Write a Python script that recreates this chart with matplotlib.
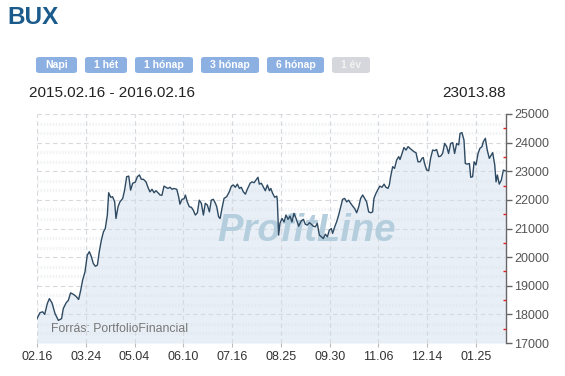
import numpy as np
import matplotlib
matplotlib.use("Agg")
import matplotlib.pyplot as plt
from matplotlib.patches import FancyBboxPatch
from matplotlib.ticker import MultipleLocator

plt.rcParams['font.family'] = ['Liberation Sans', 'DejaVu Sans']

# trading-day index (0 = 2015.02.16) and BUX close
days = [0, 1.6, 3.0, 4.1, 5.5, 6.6, 8.0, 9.6, 11.4, 13.1, 14.0, 15.5, 16.7, 17.9, 19.4,
        20.8, 22.2, 23.3, 24.3, 25.6, 26.8, 27.9, 29.0, 30.0, 31.1, 32.2, 33.2, 34.3,
        35.4, 36.4, 37.5, 38.2, 39.3, 40.3, 41.4, 42.1, 43.2, 44.2, 45.7, 46.7, 47.8,
        48.9, 49.9, 51.0, 52.4, 53.5, 54.6, 55.6, 56.7, 58.1, 59.2, 60.2, 61.3, 62.4,
        63.4, 64.5, 65.6, 66.6, 67.7, 68.8, 69.8, 70.9, 72.0, 73.0, 74.5, 75.5, 76.2,
        77.3, 78.4, 79.1, 80.1, 81.2, 82.3, 83.3, 84.4, 85.5, 86.5, 87.6, 88.7, 89.7,
        90.8, 91.9, 92.9, 94.0, 95.1, 95.8, 96.8, 97.6, 98.6, 99.7, 101.1, 102.5,
        103.6, 104.7, 105.7, 106.8, 107.9, 108.9, 110.0, 111.1, 112.1, 113.6, 114.6,
        115.7, 116.7, 117.8, 118.5, 119.6, 120.7, 121.7, 122.8, 123.9, 124.6, 125.6,
        126.7, 127.8, 128.1, 128.8, 129.5, 130.6, 131.7, 132.7, 133.8, 134.9, 135.9,
        137.0, 138.1, 139.5, 140.9, 142.0, 143.0, 144.1, 145.2, 146.2, 147.3, 148.4,
        149.4, 150.5, 151.6, 152.6, 153.7, 154.8, 155.8, 156.9, 157.6, 158.7, 159.7,
        160.8, 161.9, 162.9, 164.0, 165.1, 166.1, 167.2, 168.3, 169.3, 170.4, 171.5,
        172.5, 173.6, 174.7, 175.7, 176.8, 177.9, 178.9, 179.6, 180.7, 181.8, 182.8,
        183.9, 185.0, 186.0, 187.1, 187.8, 188.5, 189.6, 190.6, 191.7, 192.8, 193.5,
        194.6, 195.6, 196.7, 197.8, 198.8, 199.9, 201.0, 202.0, 203.1, 204.2, 205.2,
        205.9, 206.6, 207.7, 208.8, 209.8, 210.9, 212.0, 213.0, 214.1, 215.2, 216.2,
        217.3, 218.4, 219.4, 220.5, 221.6, 222.6, 223.7, 224.8, 225.5, 226.5, 227.6,
        228.3, 229.4, 230.5, 231.2, 232.2, 233.0, 234.0, 235.1, 236.1, 237.2, 237.9,
        239.0, 240.0, 241.1, 242.2, 242.9, 244.0, 244.7, 245.4, 246.4, 247.5, 248.6,
        249.6]
bux = [17850, 18060, 18090, 18000, 18380, 18550, 18400, 18030, 17790, 17850, 18200,
       18400, 18490, 18750, 18700, 18630, 18520, 18840, 19190, 19490, 20070, 20190,
       20010, 19780, 19680, 19720, 20190, 20590, 20880, 21000, 21470, 22250, 22090,
       22110, 21930, 21350, 21760, 21930, 22050, 22340, 22810, 22830, 22340, 22580,
       22620, 22810, 22870, 22720, 22720, 22630, 22430, 22280, 22370, 22250, 22320,
       22250, 22170, 22160, 22480, 22440, 22400, 22440, 22370, 22400, 22370, 22110,
       21850, 22020, 22040, 22170, 21930, 21760, 21740, 21640, 21470, 21550, 21990,
       21880, 21470, 21880, 21820, 21580, 21990, 22020, 21880, 21760, 21410, 21350,
       21700, 22050, 22110, 22280, 22480, 22520, 22440, 22550, 22400, 22440, 22280,
       22200, 22370, 22580, 22630, 22600, 22690, 22790, 22550, 22580, 22440, 22320,
       22520, 22320, 22400, 22230, 22090, 22130, 21990, 20770, 21180, 21350, 21230,
       21470, 21320, 21430, 21230, 21530, 21350, 21080, 21270, 21320, 21150, 21120,
       21200, 21150, 21080, 21060, 21180, 20770, 20710, 20650, 20800, 20710, 20940,
       21000, 20830, 21060, 21230, 21470, 21760, 22020, 22050, 21930, 21990, 21880,
       21780, 21700, 21550, 21760, 22050, 22170, 22050, 21930, 21580, 21550, 21580,
       22050, 22230, 22370, 22480, 22440, 22550, 22440, 22400, 22520, 22810, 23160,
       23100, 23390, 23510, 23410, 23620, 23830, 23740, 23860, 23800, 23740, 23680,
       23650, 23330, 23330, 23450, 23480, 23270, 23040, 23020, 23450, 23740, 23720,
       23760, 23510, 23530, 23620, 23970, 23860, 23620, 23970, 24000, 23620, 23970,
       23920, 24320, 24350, 24090, 23270, 23250, 23270, 22790, 22810, 23330, 23220,
       23620, 23800, 23860, 24030, 24150, 23740, 23450, 23570, 23650, 23220, 22630,
       22870, 22550, 22690, 23040, 23013.88]

tick_days = [0, 26, 52, 78, 104, 130, 156, 182, 208, 234]
tick_labels = ['02.16', '03.24', '05.04', '06.10', '07.16', '08.25',
               '09.30', '11.06', '12.14', '01.25']
buttons = ['Napi', '1 hét', '1 hónap', '3 hónap', '6 hónap', '1 év']
button_px = [(36, 77), (85, 127), (135, 193), (201, 259), (267, 324), (332, 370)]
active = [True, True, True, True, True, False]
date_range = '2015.02.16 - 2016.02.16'
last_value = '23013.88'

W, H = 565, 376
fig = plt.figure(figsize=(W / 100, H / 100), dpi=100)


def fx(px):
    return px / W


def fy(py):
    return 1 - py / H


ax = fig.add_axes([fx(37), fy(343), fx(506) - fx(37), fy(114) - fy(343)])

ax.fill_between(days, bux, 17000, color='#e8eff7', lw=0, zorder=1)
ax.plot(days, bux, color='#2e4a62', lw=1.0, zorder=4)
ax.text(0.574, 0.49, 'ProfitLine', transform=ax.transAxes, ha='center', va='center',
        fontsize=27.5, fontweight='bold', style='italic', color='#b5cedd', zorder=3)
ax.text(0.03, 0.06, 'Forrás: PortfolioFinancial', transform=ax.transAxes,
        fontsize=8.8, color='#777777', va='center', zorder=5)

ax.set_xlim(0, 250)
ax.set_ylim(17000, 25000)
ax.set_xticks(tick_days)
ax.set_xticklabels(tick_labels)
ax.yaxis.set_major_locator(MultipleLocator(1000))
ax.yaxis.set_minor_locator(MultipleLocator(500))
ax.yaxis.tick_right()

# faint dotted bands between the dashed grid lines
for v in np.arange(17000, 25000, 1000):
    for f in (1 / 3, 2 / 3):
        ax.axhline(v + 1000 * f, color='#dfe3e8', lw=2.2, ls=(0, (0.5, 0.5)),
                   alpha=0.45, zorder=1.5)
ax.grid(True, which='major', color='#d6d9dd', lw=0.8, ls=(0, (4, 3)))
ax.set_axisbelow(False)

for s in ('top', 'left', 'bottom'):
    ax.spines[s].set_visible(False)
ax.spines['right'].set_color('#666666')
ax.spines['right'].set_linewidth(1)

ax.tick_params(axis='y', which='major', direction='out', length=4, width=1,
               color='#666666', labelsize=9, labelcolor='#555555', pad=2)
ax.tick_params(axis='y', which='minor', direction='in', length=2.5, width=1,
               color='#dd2222')
ax.tick_params(axis='x', direction='out', length=3, color='#bbbbbb',
               labelsize=9, labelcolor='#333333', pad=3)

fig.text(fx(7), fy(17), 'BUX', fontsize=17.5, fontweight='bold', color='#1b5b8c',
         ha='left', va='center')

for label, (x0, x1), on in zip(buttons, button_px, active):
    box = FancyBboxPatch((fx(x0), fy(73)), fx(x1) - fx(x0), fy(57) - fy(73),
                         boxstyle='round,pad=0,rounding_size=0.006',
                         transform=fig.transFigure,
                         fc='#8db0e3' if on else '#d6d7dc', ec='none')
    fig.patches.append(box)
    fig.text(fx((x0 + x1) / 2), fy(65.5), label, fontsize=7.5, fontweight='bold',
             color='white' if on else '#f2f2f2', ha='center', va='center')

fig.text(fx(29), fy(93), date_range, fontsize=11, color='#222222',
         ha='left', va='center')
fig.text(fx(506), fy(93), last_value, fontsize=11, color='#222222',
         ha='right', va='center')

fig.savefig('out.png', dpi=100)
